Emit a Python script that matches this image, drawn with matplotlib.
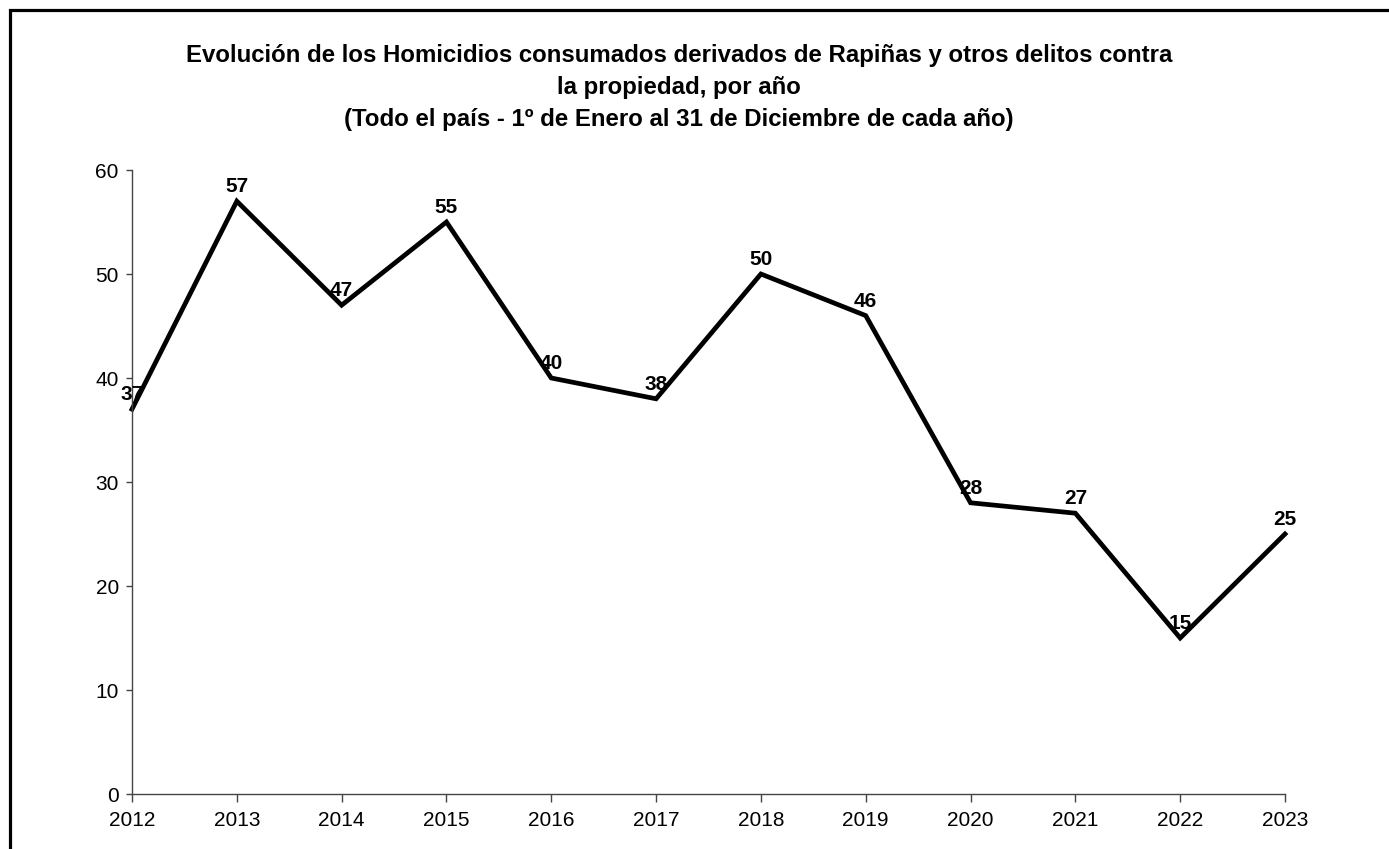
import matplotlib
matplotlib.use("Agg")
import matplotlib.pyplot as plt
from matplotlib.patches import Rectangle

plt.rcParams['font.family'] = ['Liberation Sans', 'DejaVu Sans']

years = [2012, 2013, 2014, 2015, 2016, 2017, 2018, 2019, 2020, 2021, 2022, 2023]
homicidios = [37, 57, 47, 55, 40, 38, 50, 46, 28, 27, 15, 25]
yticks = [0, 10, 20, 30, 40, 50, 60]

title = ("Evolución de los Homicidios consumados derivados de Rapiñas y otros delitos contra\n"
         "la propiedad, por año\n"
         "(Todo el país - 1º de Enero al 31 de Diciembre de cada año)")

fig = plt.figure(figsize=(13.89, 8.49), dpi=100)
ax = fig.add_axes([132/1389, 1 - 794/849, (1285 - 132)/1389, (794 - 170)/849])

ax.plot(years, homicidios, color='black', linewidth=3.4, solid_joinstyle='miter',
        clip_on=False)
for x, y in zip(years, homicidios):
    ax.annotate(str(y), (x, y), xytext=(0, 6.5), textcoords='offset points',
                ha='center', va='baseline', fontsize=15, fontweight='bold',
                annotation_clip=False)

ax.set_xlim(2012, 2023)
ax.set_ylim(0, 60)
ax.set_xticks(years)
ax.set_yticks(yticks)
ax.tick_params(axis='y', direction='out', length=4.5, width=1, colors='#444444',
               labelcolor='black', labelsize=15, pad=5)
ax.tick_params(axis='x', direction='out', length=5.8, width=1, colors='#444444',
               labelcolor='black', labelsize=15, pad=6.5)
for side in ['top', 'right']:
    ax.spines[side].set_visible(False)
for side in ['left', 'bottom']:
    ax.spines[side].set_color('#444444')
    ax.spines[side].set_linewidth(1)

fig.text(0.489, 1 - 44/849, title, ha='center', va='top', fontsize=17.3,
         fontweight='bold', linespacing=1.5)

# frame round the chart, cut off on the right and bottom
fig.patches.append(Rectangle((9.5/1389, -0.2), 1.2, 1.2 - 10/849,
                             transform=fig.transFigure, fill=False,
                             edgecolor='black', linewidth=2.3))

fig.savefig('out.png', dpi=100)
